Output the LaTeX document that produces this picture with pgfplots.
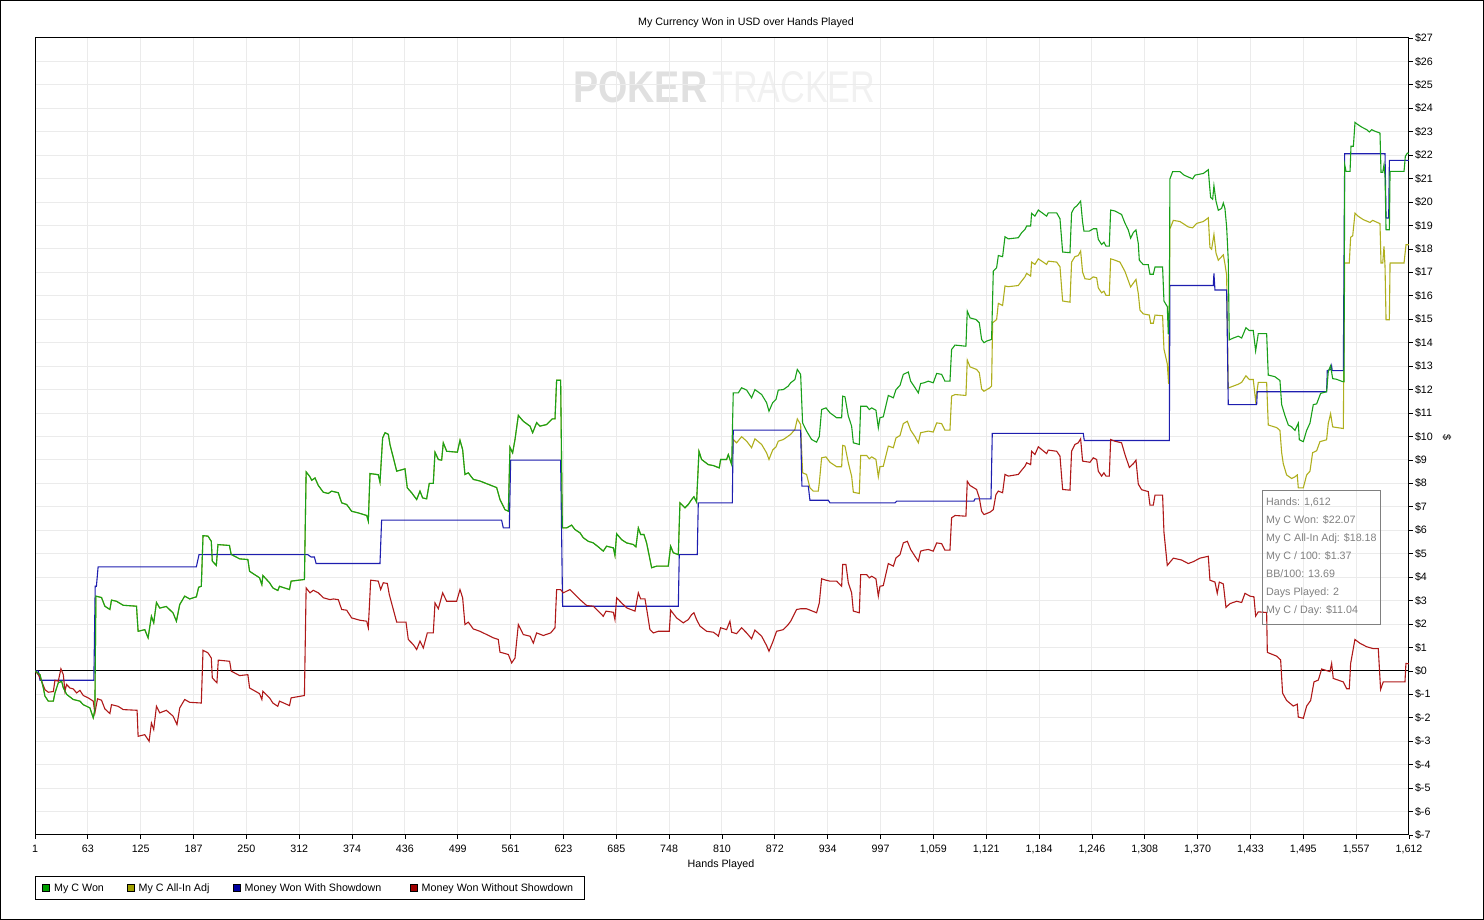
\documentclass[border=0pt]{standalone}
\usepackage{pgfplots}
\usepackage{pgfplotstable}
\usepackage{graphicx}
\usepackage{fontspec}
\setmainfont{Liberation Sans}
\pgfplotsset{compat=1.18}
\definecolor{gridc}{RGB}{235,235,235}
\definecolor{cgreen}{RGB}{25,160,25}
\definecolor{cyellow}{RGB}{175,175,30}
\definecolor{cblue}{RGB}{30,30,175}
\definecolor{cred}{RGB}{175,25,25}
\definecolor{lgreen}{RGB}{0,160,0}
\definecolor{lyellow}{RGB}{160,160,0}
\definecolor{lblue}{RGB}{0,0,160}
\definecolor{lred}{RGB}{160,0,0}
\definecolor{wmA}{RGB}{224,224,224}
\definecolor{wmB}{RGB}{241,241,241}
\definecolor{tipc}{RGB}{128,128,128}
\newcommand\f{\fontsize{10.7}{12.8}\selectfont}

\pgfplotstableread{
h v
1 0
6.9 -0.16
10.8 -0.73
12.7 -1.08
16.6 -1.29
22.5 -1.29
24.4 -0.94
28.3 -0.51
32.2 -0.44
34.2 -0.72
38 -1.0
45.9 -1.22
53.7 -1.29
57.6 -1.44
65.4 -1.58
69.3 -2.0
71.2 -1.65
72.4 3.19
79 3.13
82.9 2.76
88.8 2.62
90.7 3.02
96.6 2.97
104.4 2.8
120 2.76
121.9 1.69
129.7 1.76
133.6 1.41
137.5 2.33
140.2 2.05
143.4 2.92
147.3 2.68
155 2.75
162.9 2.47
166.8 2.12
170.7 2.83
176.5 3.19
182.4 3.07
190.2 3.16
192.9 3.57
196 3.61
198 5.77
203.8 5.75
207.7 5.53
208.9 4.68
213.6 4.5
215.5 5.39
229 5.35
231 4.97
240.9 4.78
250.6 4.75
252.6 4.25
264.3 3.97
267 3.68
268.2 4.07
276 3.76
279.9 3.54
285.7 3.43
287.7 3.61
299.4 3.47
301.3 3.83
316.9 3.9
318.9 8.49
323.4 8.28
325.4 8.13
329.3 8.23
333.2 7.91
339.1 7.62
344.9 7.57
348.8 7.67
356.6 7.6
360.6 7.17
366.4 7.1
372.3 6.81
380.1 6.74
389.9 6.63
391.8 6.39
393.8 8.42
403.5 8.37
405.5 8.05
408.6 9.94
411.4 10.16
415.3 10.09
417.2 9.66
425.1 8.52
434.8 8.62
437.5 7.81
442.6 7.6
448.5 7.31
452.4 7.67
455.5 7.38
460.2 7.34
463.3 8.0
468 8.0
470 9.33
473.9 9.02
477.8 8.99
479.7 9.73
483.7 9.37
496.2 9.33
499.3 9.84
502.4 9.44
505.1 8.38
509.1 8.45
514.9 8.17
522.7 8.1
532.5 7.96
542.3 7.82
546.2 7.31
552 6.88
556 6.81
557.9 9.54
561 9.3
563.8 9.87
567.7 10.9
573.5 10.65
581.4 10.44
584.5 10.16
589.2 10.59
593.1 10.44
600.9 10.51
607.5 10.75
610.7 10.75
612.6 12.4
617.3 12.4
619.3 6.1
624.3 6.1
630.2 6.22
634.1 6.03
640 5.89
643.9 5.68
649.7 5.53
655.6 5.46
661.5 5.29
667.3 5.11
671.2 5.32
679.1 5.25
681 4.92
683 5.85
688.8 5.6
694.7 5.46
702.5 5.39
705.6 5.29
708.4 6.1
711.1 5.82
715 5.82
718.1 5.46
721.3 4.89
724 4.4
729.9 4.47
743.5 4.47
746.3 5.32
749.4 5.04
755.3 4.96
757.2 7.17
763.1 6.96
767 7.1
770.9 7.31
773.6 7.43
776.7 7.2
779.5 9.37
782.6 9.02
790.4 8.8
796.3 8.76
803.3 8.66
804.9 9.02
811.9 9.02
813.9 9.23
817.8 8.8
819.7 11.86
825.6 11.86
829.5 12.08
835.4 11.98
841.2 11.65
845.1 12.0
853 11.79
858.8 11.44
861.6 11.08
865.9 11.44
869.8 11.58
872.5 11.98
878.4 12.0
884.2 12.15
887 12.29
892 12.43
894.8 12.86
898.7 12.65
901 10.58
905.7 10.23
911.6 9.87
917.4 9.76
920.6 10.0
923.3 11.15
928.4 11.22
933.1 11.01
940.9 10.8
946.8 10.8
948 11.72
950.7 11.69
954.6 10.87
958.5 10.44
960.5 9.73
967.5 9.66
969.1 11.29
976.1 11.29
979.2 11.15
982 11.22
987 11.12
989.8 10.37
991.7 10.8
995.6 10.84
1001.5 11.75
1007.4 11.65
1010.5 12.0
1015.2 12.18
1019.1 12.65
1025 12.75
1027.7 12.36
1032.8 12.08
1036.7 11.86
1039.4 12.26
1043.3 12.29
1048.4 12.36
1054.2 12.29
1058.2 12.69
1064 12.65
1067.9 12.36
1073.8 12.36
1075.7 13.71
1079.7 13.9
1092.5 13.85
1094.1 15.35
1097.3 15.06
1104.3 14.99
1108.2 14.85
1110.9 14.14
1113.7 14.0
1116.8 14.07
1122.6 14.14
1124.6 17.06
1128.5 17.2
1130.5 17.72
1135.5 17.67
1138.3 18.52
1142.2 18.43
1153.9 18.48
1157.8 18.69
1161.7 18.83
1163.7 18.98
1168.4 18.98
1169.5 19.52
1173.4 19.4
1177.4 19.66
1187.1 19.4
1189.1 19.54
1198.9 19.54
1202.8 19.29
1205.9 17.87
1214.5 17.84
1216.4 19.54
1219.6 19.76
1222.3 19.83
1227 20.04
1229.3 19.15
1230.9 18.76
1237.1 18.76
1241.8 18.86
1245.8 18.86
1247.7 18.41
1251.6 18.19
1254.3 18.29
1256.7 18.12
1260.6 18.12
1262.2 19.66
1267.2 19.62
1275 19.47
1279 19.1
1282.9 18.81
1285.6 18.46
1288.8 18.7
1291.9 18.81
1294.6 18.23
1295.8 17.52
1300.5 17.33
1306.3 17.33
1308.3 16.92
1312.2 16.92
1314.2 17.23
1323.1 17.23
1324.7 15.78
1328.6 15.54
1329.8 14.36
1331 15.62
1331.7 20.99
1334.9 21.3
1343.5 21.3
1348.2 21.15
1353.2 21.07
1358.3 20.99
1361.1 21.15
1370.8 21.22
1376.7 21.38
1377.9 20.83
1379.4 20.2
1381.8 20.12
1383.3 20.7
1385.7 20.04
1388.4 19.65
1392.3 19.73
1394.3 19.96
1396.2 19.73
1398.2 18.94
1400.1 17.52
1401.3 14.12
1406 14.2
1411.9 14.28
1415.8 14.2
1420.8 14.64
1424.8 14.52
1429.4 14.52
1432.2 13.65
1435.3 14.39
1445.1 14.39
1447 12.62
1454.8 12.55
1460.7 12.39
1462.7 11.36
1466.6 10.89
1470.5 10.49
1474.4 10.41
1478.3 10.26
1482.2 10.57
1483.4 9.86
1488.1 9.78
1492 10.26
1495.9 10.57
1499.8 11.36
1503.7 11.39
1508.4 11.84
1515.4 11.91
1517.4 12.78
1520.1 13.02
1522.5 12.47
1527.1 12.44
1534.2 12.34
1535.8 12.34
1536.6 21.59
1538.2 21.31
1542.9 21.31
1544 22.38
1546.8 22.38
1548.7 23.4
1550.7 23.34
1556.5 23.2
1562.4 23.09
1565.5 22.99
1568.3 23.09
1572.2 23.02
1576.1 22.97
1578 22.94
1579.2 21.27
1581.2 21.27
1582.7 21.59
1583.9 21.1
1585.1 18.82
1589 18.82
1589.8 21.31
1606.2 21.31
1607.7 21.95
1610.1 22.09
1612 22.07
}\greentab

\pgfplotstableread{
h v
817.8 8.8
819.7 9.87
823.6 9.73
829.5 9.99
835.4 9.8
841.2 9.52
845.1 9.9
853 9.66
858.8 9.3
861.6 9.02
865.9 9.42
869.8 9.56
872.5 9.8
878.4 9.87
887 10.09
892 10.3
894.8 10.75
898.7 10.51
901 8.45
905.7 8.38
909.6 7.81
913.5 7.67
919.4 7.67
920.6 8.02
923.3 9.09
928.4 9.13
933.1 8.9
940.9 8.71
946.8 8.71
948 9.62
950.7 9.59
954.6 8.88
958.5 8.31
960.5 7.62
967.5 7.57
969.1 9.19
976.1 9.19
979.2 9.05
982 9.13
987 9.02
989.8 8.28
991.7 8.71
995.6 8.73
1001.5 9.59
1007.4 9.52
1010.5 9.94
1015.2 10.04
1019.1 10.55
1023.8 10.65
1027.7 10.27
1032.8 9.99
1036.7 9.73
1039.4 10.16
1043.3 10.19
1048.4 10.23
1054.2 10.19
1058.2 10.58
1064 10.55
1067.9 10.27
1073.8 10.27
1075.7 11.72
1079.7 11.79
1092.5 11.75
1094.1 13.26
1097.3 12.97
1105 12.86
1108.2 12.72
1110.9 12.03
1113.7 11.93
1120.7 12.08
1122.6 12.15
1123.8 14.85
1128.5 14.99
1130.5 15.68
1135.5 15.59
1138.3 16.42
1142.2 16.39
1153.9 16.44
1157.8 16.63
1161.7 16.81
1163.7 16.96
1168.4 16.84
1169.5 17.44
1173.4 17.34
1177.4 17.58
1187.1 17.34
1189.1 17.48
1198.9 17.44
1202.8 17.24
1205.9 15.78
1214.5 15.73
1216.4 17.44
1220.3 17.67
1224.2 17.72
1227 17.91
1229.3 17.01
1232.1 16.73
1237.9 16.7
1241.8 16.81
1245.8 16.77
1247.7 16.34
1251.6 16.13
1254.3 16.2
1256.7 16.02
1260.6 16.02
1262.2 17.58
1267.2 17.52
1273.1 17.44
1279 17.04
1285.6 16.38
1291.9 16.7
1294.6 16.1
1296.6 15.39
1300.5 15.23
1307.5 15.18
1309.1 14.83
1312.2 14.83
1314.2 15.18
1323.1 15.15
1324.7 13.73
1328.6 13.1
1330.2 12.23
1331.7 18.86
1335.7 19.22
1343.5 19.17
1353.2 18.94
1358.3 18.9
1363 19.09
1370.8 19.17
1376.7 19.33
1378.6 18.07
1380.6 17.99
1383.3 18.62
1385.7 17.83
1388.4 17.52
1394.3 17.75
1396.2 17.36
1398.2 16.88
1400.1 12.07
1406 12.15
1411.9 12.23
1415.8 12.31
1420.8 12.59
1424.8 12.43
1429.4 12.43
1432.2 11.52
1435.3 12.31
1445.1 12.31
1447 10.49
1456.8 10.38
1460.7 10.26
1462.7 9.31
1464.6 8.84
1468.5 8.36
1474.4 8.21
1478.3 8.28
1481 8.36
1482.2 7.81
1488.1 7.81
1492 8.36
1495.9 8.52
1499 9.31
1503.7 9.39
1507.6 9.78
1515.4 9.86
1517.4 10.57
1520.1 10.97
1522.5 10.41
1535 10.34
1536.6 17.4
1542 17.4
1543.6 18.5
1546 18.56
1548.7 19.53
1552.6 19.39
1558.5 19.25
1566.3 19.13
1569.4 19.22
1578 19.08
1579.2 17.4
1581.2 17.4
1582.7 18.11
1583.9 17.25
1585.1 14.98
1589 14.98
1589.8 17.4
1606.2 17.4
1608.5 18.18
1612 18.18
}\yellowtab

\pgfplotstableread{
h v
1 0
4.9 0
6.9 -0.4
70 -0.4
71.6 3.61
73 3.61
75 4.44
190.2 4.44
193.3 4.96
320.8 4.96
324.7 4.86
328.6 4.86
330.6 4.58
405.5 4.58
407.4 6.43
548.1 6.43
550.1 6.1
557.1 6.1
558.7 8.99
617.3 8.99
619.6 2.76
755.3 2.76
756.4 4.96
777.5 4.96
778.7 7.17
818.6 7.17
819.7 10.27
898.7 10.27
900.2 7.88
907.7 7.88
909.6 7.28
931.1 7.28
933.1 7.17
1009.3 7.17
1011.3 7.24
1101.9 7.24
1103.1 7.34
1121.9 7.34
1123.4 10.13
1230.1 10.13
1231.3 9.83
1331 9.83
1331.7 16.44
1382.5 16.44
1383.3 16.96
1384.5 16.25
1398.2 16.25
1400.1 11.36
1433.4 11.36
1434.1 11.91
1515.4 11.91
1516.2 12.81
1520.5 12.86
1521.3 13.0
1522 12.81
1535 12.81
1536.6 22.06
1583.9 22.06
1585.1 19.32
1588.2 19.32
1589 21.78
1612 21.78
}\bluetab

\pgfplotstableread{
h v
1 0
4.9 -0.16
8.8 -0.44
12.7 -0.8
16.6 -0.91
22.5 -0.88
24.4 -0.4
28.3 -0.44
31.4 0.09
34.2 -0.16
36.1 -0.87
38 -0.58
42 -0.73
45.9 -0.77
49.8 -0.94
53.7 -0.83
57.6 -1.05
63.4 -1.15
69.3 -1.29
71.2 -1.79
74.3 -1.19
79 -1.25
82.9 -1.62
88.8 -1.82
90.7 -1.44
98.5 -1.51
104.4 -1.65
120.7 -1.68
121.9 -2.79
129.7 -2.72
134.8 -3.0
137.5 -2.22
140.2 -2.5
143.4 -1.51
147.3 -1.79
155 -1.68
162.9 -1.93
167.5 -2.29
170.7 -1.58
176.5 -1.22
182.4 -1.34
196 -1.37
198 0.88
203.8 0.77
207.7 0.55
208.9 -0.3
214.3 -0.51
215.9 0.46
229.2 0.41
231.1 -0.01
240.9 -0.2
250.6 -0.16
252.6 -0.73
264.3 -0.97
267 -1.22
268.2 -0.87
276 -1.15
279.9 -1.37
285.7 -1.51
287.7 -1.29
299.4 -1.48
301.3 -1.15
316.9 -1.05
318.9 3.54
323.4 3.33
327.3 3.44
333.2 3.33
339.1 3.12
346.9 3.04
350.8 3.07
356.6 3.04
360.6 2.62
366.4 2.59
372.3 2.26
382.1 2.16
389.9 2.12
391.8 1.84
394.6 3.87
403.5 3.83
406.3 3.47
409.4 3.76
414.1 3.73
416.4 3.26
425.1 2.08
436 2.08
438.7 1.34
444.6 1.12
448.5 0.91
452.4 1.27
456.3 0.98
461 1.62
468 1.62
470 2.9
473.9 2.65
479 3.33
483.7 2.97
495.4 2.97
499.3 3.47
502.4 3.12
505.1 1.98
509.1 2.08
514.9 1.79
522.7 1.69
530.6 1.55
538.4 1.41
544.2 1.34
546.2 0.8
556 0.7
559.9 0.34
563.8 0.55
567.7 1.98
573.5 1.55
581.4 1.48
585.3 1.19
589.2 1.62
597 1.51
605.6 1.62
610.7 1.84
612.6 3.47
617.3 3.47
620.4 3.33
628.2 3.47
634.1 3.26
640 3.04
647.8 2.79
655.6 2.76
663.4 2.48
667.3 2.33
670.5 2.55
679.1 2.5
681 2.19
683 3.12
688.8 2.9
694.7 2.69
704.5 2.55
708.4 3.33
711.1 3.07
716.2 3.07
718.9 2.48
722 1.76
726 1.62
731.8 1.69
744.7 1.69
746.3 2.59
753.3 2.26
761.1 2.05
767 2.19
770.9 2.4
773.6 2.48
776.7 2.19
780.7 1.91
788.5 1.69
796.3 1.65
800.2 1.55
802.2 1.48
804.9 1.84
811.9 1.76
815.8 2.12
817.8 1.65
823.6 1.59
829.5 1.84
835.4 1.62
841.2 1.37
845.1 1.74
853 1.48
858.8 1.08
861.6 0.84
865.9 1.22
870.5 1.69
878.4 1.76
884.2 1.98
887 2.12
894 2.62
898.7 2.65
905.7 2.65
917.4 2.48
920.6 2.9
923.3 3.93
928.4 3.87
933.1 3.83
940.9 3.83
946.8 3.61
948 4.54
951.8 4.54
954.6 3.76
958.5 3.33
960.5 2.55
967.5 2.48
969.1 4.11
976.1 4.11
979.2 3.97
982 4.04
987 3.93
989.8 3.19
991.7 3.61
995.6 3.64
1001.5 4.58
1007.4 4.47
1010.5 4.82
1015.2 4.96
1019.1 5.46
1023.8 5.53
1027.7 5.18
1032.8 4.89
1036.7 4.68
1039.4 5.11
1043.3 5.15
1048.4 5.18
1054.2 5.11
1058.2 5.46
1064 5.43
1067.9 5.15
1073.8 5.15
1075.7 6.53
1079.7 6.63
1092.5 6.6
1094.1 8.09
1097.3 7.91
1105 7.74
1108.2 7.38
1110.9 6.81
1113.7 6.67
1120.7 6.77
1124.6 6.88
1127.7 7.52
1130.5 7.67
1135.5 7.6
1138.3 8.38
1142.2 8.31
1153.9 8.38
1157.8 8.56
1161.7 8.73
1163.7 8.88
1168.4 8.8
1169.5 9.37
1173.4 9.23
1177.4 9.56
1187.1 9.27
1189.1 9.42
1198.9 9.37
1202.8 9.16
1205.9 7.74
1214.5 7.71
1216.4 9.37
1220.3 9.66
1224.2 9.73
1227 9.9
1229.3 8.95
1237.9 8.9
1241.8 9.09
1245.8 9.02
1247.7 8.52
1251.6 8.31
1254.3 8.45
1256.7 8.31
1260.6 8.31
1262.2 9.87
1267.2 9.8
1275 9.73
1279 9.23
1284.1 8.68
1288.8 8.84
1291.9 8.99
1294.6 7.97
1298.5 7.73
1306.3 7.65
1308.3 7.07
1312.2 7.07
1314.2 7.5
1323.1 7.5
1324.7 5.92
1328.6 4.5
1335.7 4.81
1345.4 4.73
1353.2 4.58
1359.1 4.66
1366.9 4.81
1376.7 4.89
1378.6 3.87
1384.5 3.79
1387.2 3.31
1389.6 3.79
1394.3 3.71
1397.4 2.71
1402.1 2.87
1409.9 2.97
1415.8 2.92
1419.7 3.31
1425.5 3.19
1430.2 3.16
1432.2 2.34
1435.3 2.52
1445.1 2.49
1445.9 0.79
1456.8 0.63
1461.5 0.47
1463.8 -0.95
1468.5 -1.26
1476.3 -1.5
1481 -1.42
1482.2 -1.97
1488.1 -2.02
1492 -1.5
1496.7 -1.26
1500.6 -0.47
1505.7 -0.39
1509.6 0.08
1519.3 -0.03
1521.3 0.32
1523.2 -0.32
1535 -0.47
1538.9 -0.76
1542 -0.76
1543.6 0.32
1548.6 1.34
1554.5 1.18
1562.4 1.03
1570.1 0.95
1576 0.95
1578.7 -0.79
1581.8 -0.47
1607.3 -0.47
1608.4 0.32
1612 0.3
}\redtab

\begin{document}
\begin{tikzpicture}[x=1pt,y=1pt,font=\f]
\useasboundingbox (0,0) rectangle (1484,920);
\draw[line width=1pt] (0.5,0.5) rectangle (1483.5,919.5);
% watermark
\node[anchor=south west, inner sep=0] at (573,817) {\resizebox{134pt}{31pt}{\color{wmA}\bfseries POKER}};
\node[anchor=south west, inner sep=0] at (712,817) {\resizebox{163pt}{31pt}{\color{wmB}TRACKER}};
% title
\node[anchor=base] at (746,894) {My Currency Won in USD over Hands Played};
\begin{axis}[
  at={(35pt,85pt)}, anchor=south west,
  scale only axis, width=1374pt, height=797pt,
  xmin=1, xmax=1612, ymin=-7, ymax=27,
  axis line style={line width=1pt},
  xtick={1,62.96,124.92,186.88,248.85,310.81,372.77,434.73,496.69,558.65,620.62,682.58,744.54,806.5,868.46,930.42,992.38,1054.35,1116.31,1178.27,1240.23,1302.19,1364.15,1426.12,1488.08,1550.04,1612},
  xticklabels={1,63,125,187,250,312,374,436,499,561,623,685,748,810,872,934,997,{1,059},{1,121},{1,184},{1,246},{1,308},{1,370},{1,433},{1,495},{1,557},{1,612}},
  ytick={-7,-6,...,27},
  yticklabels={\$-7,\$-6,\$-5,\$-4,\$-3,\$-2,\$-1,\$0,\$1,\$2,\$3,\$4,\$5,\$6,\$7,\$8,\$9,\$10,\$11,\$12,\$13,\$14,\$15,\$16,\$17,\$18,\$19,\$20,\$21,\$22,\$23,\$24,\$25,\$26,\$27},
  xtick pos=bottom, ytick pos=right, yticklabel pos=right,
  tick align=outside, major tick length=4pt,
  tick style={line width=0.8pt, black},
  grid=major, grid style={line width=1pt, gridc},
  ticklabel style={font=\f},
  yticklabel style={xshift=-1.5pt},
  xticklabel style={yshift=-3pt},
]
\draw[line width=1pt, black] (axis cs:1,0) -- (axis cs:1612,0);
\addplot[cyellow, line width=1.1pt, restrict x to domain=1:818] table[x=h,y=v] {\greentab};
\addplot[cyellow, line width=1.1pt] table[x=h,y=v] {\yellowtab};
\addplot[cblue, line width=1.1pt] table[x=h,y=v] {\bluetab};
\addplot[cred, line width=1.1pt] table[x=h,y=v] {\redtab};
\addplot[cgreen, line width=1.1pt] table[x=h,y=v] {\greentab};
\end{axis}
% axis labels
\node[anchor=base] at (721,52) {Hands Played};
\node[rotate=-90] at (1447,483) {\$};
% tooltip
\draw[tipc, line width=1pt] (1262,295) rectangle (1380,429);
\begin{scope}[every node/.style={anchor=base west, inner sep=0, text=tipc}]
\node at (1266,414) {Hands: 1,612};
\node at (1266,396) {My C Won: \$22.07};
\node at (1266,378) {My C All-In Adj: \$18.18};
\node at (1266,360) {My C / 100: \$1.37};
\node at (1266,342) {BB/100: 13.69};
\node at (1266,324) {Days Played: 2};
\node at (1266,306) {My C / Day: \$11.04};
\end{scope}
% legend
\draw[line width=1pt] (35.5,20.5) rectangle (584.5,43.5);
\begin{scope}[every node/.style={anchor=base west, inner sep=0}]
\draw[fill=lgreen, line width=0.8pt] (42.5,28.5) rectangle (49.5,35.5);
\node at (54,28) {My C Won};
\draw[fill=lyellow, line width=0.8pt] (127.5,28.5) rectangle (134.5,35.5);
\node at (138.5,28) {My C All-In Adj};
\draw[fill=lblue, line width=0.8pt] (233.5,28.5) rectangle (240.5,35.5);
\node at (244.5,28) {Money Won With Showdown};
\draw[fill=lred, line width=0.8pt] (410.5,28.5) rectangle (417.5,35.5);
\node at (421.5,28) {Money Won Without Showdown};
\end{scope}
\end{tikzpicture}
\end{document}
